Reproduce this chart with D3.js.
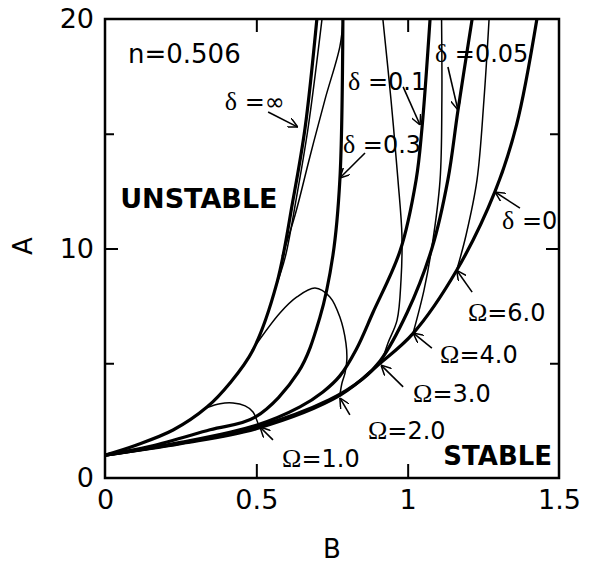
<!DOCTYPE html>
<html>
<head>
<meta charset="utf-8">
<script src="https://cdn.jsdelivr.net/npm/d3@7"></script>
<style>
  body { margin: 0; background: #fff; }
  text { font-family: "DejaVu Sans", sans-serif; fill: #000; }
</style>
</head>
<body>
<div id="chart"></div>
<script>
// curves as [B, A] points
var delta_inf  = [[0,1],[0.1,1.42],[0.225,2.09],[0.337,3.09],[0.413,4.14],[0.489,5.58],[0.568,8.5],[0.621,12.1],[0.661,15.25],[0.70,20]]
var delta_03   = [[0,1],[0.15,1.38],[0.347,2.1],[0.496,2.65],[0.638,4.6],[0.71,7.0],[0.753,9.7],[0.776,13.0],[0.786,20]]
var delta_01   = [[0,1],[0.25,1.55],[0.5,2.3],[0.644,3.1],[0.72,3.75],[0.776,4.45],[0.83,5.6],[0.885,7.2],[0.975,9.9],[1.028,13.0],[1.047,15.2],[1.074,20]]
var delta_005  = [[0,1],[0.25,1.52],[0.5,2.22],[0.74,3.4],[0.85,4.3],[0.909,5.1],[0.998,7.2],[1.08,10.0],[1.133,13.0],[1.166,16.0],[1.213,20]]
var delta_0    = [[0,1],[0.25,1.5],[0.5,2.15],[0.776,3.6],[0.909,5.0],[1.018,6.3],[1.162,9.05],[1.289,12.5],[1.36,15.4],[1.427,20]]

var omega_1      = [[0.337,3.07],[0.38,3.24],[0.423,3.27],[0.463,3.14],[0.489,2.88],[0.499,2.6],[0.509,2.25]]
var omega_2      = [[0.485,5.55],[0.578,7.19],[0.634,7.89],[0.694,8.28],[0.743,7.89],[0.776,7.01],[0.796,5.88],[0.799,5.14],[0.793,4.57],[0.783,4.14],[0.776,3.6]]
var omega_3_up   = [[0.585,9.65],[0.628,11.46],[0.677,14.0],[0.727,16.5],[0.776,18.8],[0.787,20]]
var omega_3_down = [[0.918,20],[0.945,16.47],[0.968,12.98],[0.981,10.59],[0.978,8.63],[0.965,6.88],[0.935,5.88],[0.912,4.95]]
var omega_4_up   = [[0.565,8.35],[0.595,9.6],[0.631,12.1],[0.671,15.25],[0.717,20]]
var omega_4_down = [[1.112,20],[1.113,16.47],[1.107,12.98],[1.080,10.06],[1.054,8.19],[1.018,6.32]]
var omega_6_down = [[1.269,20],[1.252,16.47],[1.229,12.98],[1.193,10.59],[1.162,9.05]]

var thick_curves = [delta_inf, delta_03, delta_01, delta_005, delta_0]
var thin_curves = [omega_1, omega_2, omega_3_up, omega_3_down, omega_4_up, omega_4_down, omega_6_down]

var x_ticks = [0, 0.5, 1, 1.5]
var x_tick_labels = ["0", "0.5", "1", "1.5"]
var y_ticks = [0, 10, 20]
var y_tick_labels = ["0", "10", "20"]

// labels: greek letter, rest of text, anchor point [B, A]
var delta_labels = [
  ["δ", " =∞",    [0.396, 16.03]],
  ["δ", " =0.1",  [0.803, 16.9]],
  ["δ", " =0.3",  [0.786, 14.16]],
  ["δ", " =0.05", [1.090, 18.13]],
  ["δ", " =0",    [1.312, 10.85]]
]
var omega_labels = [
  ["Ω", "=6.0", [1.199, 6.84]],
  ["Ω", "=4.0", [1.107, 5.01]],
  ["Ω", "=3.0", [1.018, 3.31]],
  ["Ω", "=2.0", [0.869, 1.70]],
  ["Ω", "=1.0", [0.585, 0.48]]
]
// arrows: [from, to] in [B, A]
var arrows = [
  [[0.539,15.95],[0.637,15.29]],
  [[0.859,14.16],[0.776,13.07]],
  [[0.985,17.04],[1.041,15.38]],
  [[1.133,17.91],[1.166,16.04]],
  [[1.371,11.76],[1.289,12.46]],
  [[1.213,8.10],[1.162,9.05]],
  [[1.080,5.66],[1.018,6.32]],
  [[0.985,3.97],[0.912,4.92]],
  [[0.809,2.75],[0.776,3.49]],
  [[0.555,1.66],[0.512,2.22]]
]

var width = 593
var height = 565
var plot = {left: 105, right: 559, top: 19, bottom: 478}

var svg = d3.select("#chart")
  .append("svg")
    .attr("width", width)
    .attr("height", height)

var xScale = d3.scaleLinear().domain([0, 1.5]).range([plot.left, plot.right])
var yScale = d3.scaleLinear().domain([0, 20]).range([plot.bottom, plot.top])

svg.append("clipPath").attr("id", "clip")
  .append("rect")
    .attr("x", plot.left).attr("y", plot.top)
    .attr("width", plot.right - plot.left)
    .attr("height", plot.bottom - plot.top)

var line = d3.line()
  .curve(d3.curveCatmullRom.alpha(0.5))
  .x(function(d) { return xScale(d[0]); })
  .y(function(d) { return yScale(d[1]); })

var g = svg.append("g").attr("clip-path", "url(#clip)")

g.selectAll(".thin")
  .data(thin_curves)
  .enter().append("path")
    .attr("class", "thin")
    .attr("d", line)
    .attr("fill", "none")
    .attr("stroke", "#000")
    .attr("stroke-width", 1.5)

g.selectAll(".thick")
  .data(thick_curves)
  .enter().append("path")
    .attr("class", "thick")
    .attr("d", line)
    .attr("fill", "none")
    .attr("stroke", "#000")
    .attr("stroke-width", 3.2)

// frame
svg.append("rect")
  .attr("x", plot.left).attr("y", plot.top)
  .attr("width", plot.right - plot.left)
  .attr("height", plot.bottom - plot.top)
  .attr("fill", "none")
  .attr("stroke", "#000")
  .attr("stroke-width", 2.5)

// inward tick marks
var tick_len = function(v, major) { return v === major ? 13 : 9; }
svg.append("g").attr("transform", "translate(0," + plot.bottom + ")")
  .call(d3.axisBottom(xScale).tickValues([0.5, 1]).tickSize(-14).tickFormat(""))
svg.append("g").attr("transform", "translate(0," + plot.top + ")")
  .call(d3.axisTop(xScale).tickValues([0.5, 1]).tickSize(-13).tickFormat(""))
svg.append("g").attr("transform", "translate(" + plot.left + ",0)")
  .call(d3.axisLeft(yScale).tickValues([5, 10, 15]).tickSize(0).tickFormat(""))
  .selectAll(".tick line").attr("x2", function(d) { return tick_len(d, 10); })
svg.append("g").attr("transform", "translate(" + plot.right + ",0)")
  .call(d3.axisRight(yScale).tickValues([5, 10, 15]).tickSize(0).tickFormat(""))
  .selectAll(".tick line").attr("x2", function(d) { return -tick_len(d, 10); })
svg.selectAll(".domain").remove()
svg.selectAll(".tick line").attr("stroke", "#000").attr("stroke-width", 2)

// tick labels
var xAxis = svg.append("g").attr("transform", "translate(0," + plot.bottom + ")")
  .call(d3.axisBottom(xScale).tickValues(x_ticks).tickSize(0).tickPadding(12)
    .tickFormat(function(d, i) { return x_tick_labels[i]; }))
var yAxis = svg.append("g").attr("transform", "translate(" + plot.left + ",0)")
  .call(d3.axisLeft(yScale).tickValues(y_ticks).tickSize(0).tickPadding(11)
    .tickFormat(function(d, i) { return y_tick_labels[i]; }))
xAxis.select(".domain").remove()
yAxis.select(".domain").remove()
svg.selectAll(".tick text")
  .style("font-family", "DejaVu Sans")
  .style("font-size", "27px")
  .attr("fill", "#000")

svg.append("text")
  .attr("transform", "translate(32,246)rotate(-90)")
  .attr("text-anchor", "middle")
  .style("font-size", "26px")
  .text("A")
svg.append("text")
  .attr("x", (plot.left + plot.right) / 2)
  .attr("y", 558)
  .attr("text-anchor", "middle")
  .style("font-size", "26px")
  .text("B")

svg.append("text")
  .attr("x", xScale(0.076)).attr("y", yScale(18.08))
  .style("font-size", "26px")
  .text("n=0.506")

svg.append("text")
  .attr("x", xScale(0.05)).attr("y", yScale(11.76))
  .style("font-size", "27px").style("font-weight", "bold")
  .text("UNSTABLE")
svg.append("text")
  .attr("x", xScale(1.477)).attr("y", yScale(0.57))
  .attr("text-anchor", "end")
  .style("font-size", "26px").style("font-weight", "bold")
  .text("STABLE")

function add_labels(data) {
  var t = svg.append("g").selectAll("text")
    .data(data)
    .enter().append("text")
      .attr("x", function(d) { return xScale(d[2][0]); })
      .attr("y", function(d) { return yScale(d[2][1]); })
      .style("font-size", "24px")
  t.append("tspan")
    .style("font-family", "Liberation Serif")
    .style("font-size", "26px")
    .text(function(d) { return d[0]; })
  t.append("tspan")
    .text(function(d) { return d[1]; })
}
add_labels(delta_labels)
add_labels(omega_labels)

svg.append("defs").append("marker")
  .attr("id", "head")
  .attr("viewBox", "0 0 10 10")
  .attr("refX", 10).attr("refY", 5)
  .attr("markerWidth", 10).attr("markerHeight", 10)
  .attr("markerUnits", "userSpaceOnUse")
  .attr("orient", "auto")
  .append("path")
    .attr("d", "M0,0 L10,5 L0,10")
    .attr("fill", "none")
    .attr("stroke", "#000")
    .attr("stroke-width", 1.5)

svg.append("g").selectAll("line")
  .data(arrows)
  .enter().append("line")
    .attr("x1", function(d) { return xScale(d[0][0]); })
    .attr("y1", function(d) { return yScale(d[0][1]); })
    .attr("x2", function(d) { return xScale(d[1][0]); })
    .attr("y2", function(d) { return yScale(d[1][1]); })
    .attr("stroke", "#000")
    .attr("stroke-width", 1.6)
    .attr("marker-end", "url(#head)")
</script>
</body>
</html>
